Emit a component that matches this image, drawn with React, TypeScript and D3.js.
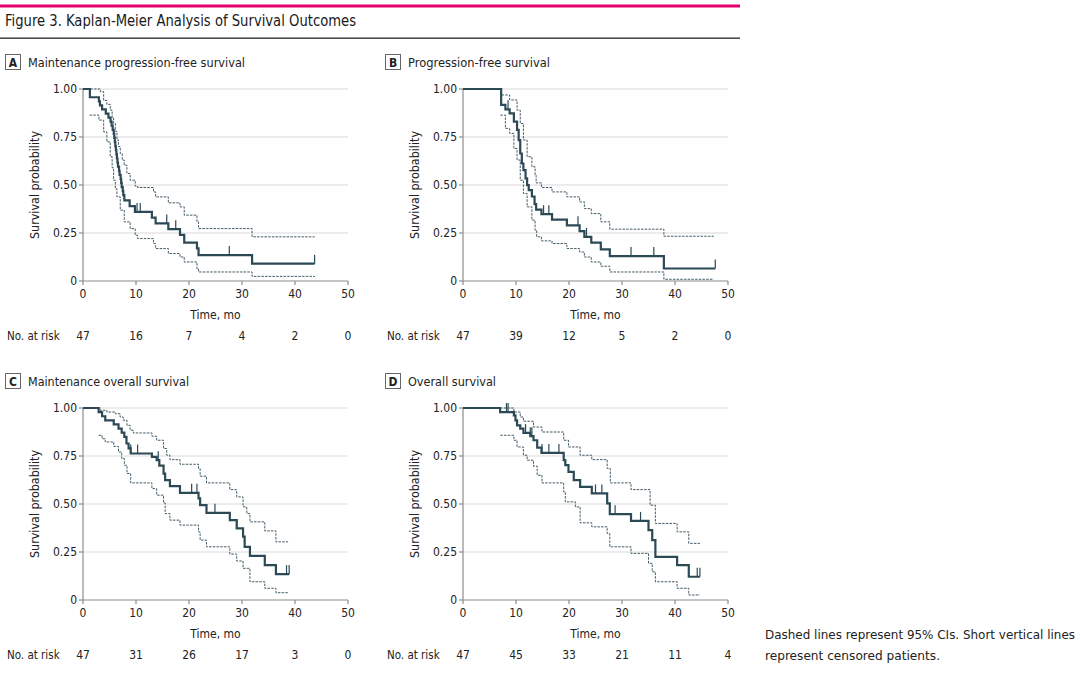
import React from "react";
import * as d3 from "d3";

type Pt = [number, number];

// ---- data (time in months, survival probability) ----
const mainA: Pt[] = [[0,1],[1.3,0.957],[3.0,0.936],[3.2,0.915],[3.6,0.894],[4.3,0.872],[4.8,0.851],[5.2,0.83],[5.4,0.809],[5.6,0.787],[5.8,0.766],[5.9,0.745],[6.0,0.723],[6.1,0.702],[6.2,0.681],[6.3,0.66],[6.4,0.638],[6.5,0.617],[6.6,0.596],[6.8,0.574],[6.9,0.553],[7.1,0.532],[7.2,0.511],[7.3,0.489],[7.5,0.468],[7.6,0.447],[7.8,0.42],[8.8,0.39],[9.8,0.36],[13.0,0.33],[13.7,0.3],[16.1,0.27],[18.3,0.24],[19.1,0.2],[21.5,0.17],[21.8,0.135],[31.9,0.09],[43.7,0.09]];
const upperA: Pt[] = [[0,1],[3.26,0.986],[3.9,0.94],[4.5,0.92],[5.14,0.89],[5.5,0.85],[5.77,0.82],[6.1,0.78],[6.4,0.734],[6.7,0.7],[7.03,0.664],[7.4,0.63],[7.78,0.603],[8.28,0.56],[8.9,0.525],[9.85,0.494],[10.3,0.487],[13.3,0.464],[13.7,0.438],[16.1,0.407],[18.3,0.386],[19.1,0.343],[21.5,0.308],[21.8,0.273],[31.9,0.23],[43.7,0.23]];
const lowerA: Pt[] = [[1.25,0.864],[3.0,0.838],[3.9,0.777],[4.5,0.725],[5.14,0.647],[5.5,0.59],[5.77,0.525],[6.1,0.48],[6.4,0.438],[7.03,0.369],[7.78,0.308],[8.9,0.273],[9.85,0.238],[10.3,0.221],[13.3,0.195],[13.7,0.169],[16.1,0.143],[18.3,0.125],[19.1,0.099],[21.5,0.064],[21.8,0.047],[31.9,0.024],[43.7,0.021]];
const censorA = [10.2, 10.8, 15.8, 17.5, 27.6, 43.7];
const riskA = [47, 16, 7, 4, 2, 0];

const mainB: Pt[] = [[0,1],[7.2,0.917],[8.0,0.894],[8.8,0.873],[9.6,0.83],[10.2,0.787],[10.5,0.734],[10.8,0.664],[11.1,0.612],[11.4,0.577],[11.8,0.534],[12.1,0.499],[12.4,0.473],[13.0,0.44],[13.5,0.4],[13.8,0.372],[14.8,0.348],[16.8,0.32],[19.6,0.29],[22.0,0.26],[22.9,0.23],[24.2,0.2],[26.0,0.165],[27.7,0.13],[37.9,0.065],[47.6,0.065]];
const upperB: Pt[] = [[0,1],[7.2,0.969],[8.8,0.943],[10.2,0.89],[10.8,0.82],[11.4,0.734],[12.1,0.647],[13.0,0.595],[13.6,0.551],[13.8,0.511],[14.8,0.487],[16.8,0.464],[19.6,0.438],[22.0,0.412],[22.9,0.377],[24.2,0.351],[26.0,0.308],[27.7,0.27],[37.9,0.233],[47.3,0.233]];
const lowerB: Pt[] = [[7.04,0.864],[8.0,0.795],[8.8,0.769],[9.6,0.69],[10.2,0.63],[10.8,0.525],[11.4,0.456],[12.1,0.386],[13.0,0.317],[13.6,0.264],[13.9,0.23],[14.8,0.209],[16.8,0.195],[19.6,0.169],[22.0,0.151],[22.9,0.125],[24.2,0.099],[26.0,0.077],[27.7,0.047],[37.9,0.009],[47.3,0.009]];
const censorB = [8.5, 15.2, 16.2, 21.7, 23.3, 31.7, 36.0, 47.6];
const riskB = [47, 39, 12, 5, 2, 0];

const mainC: Pt[] = [[0,1],[2.95,0.979],[3.6,0.957],[4.2,0.936],[5.8,0.915],[6.7,0.893],[7.3,0.872],[7.8,0.85],[8.2,0.815],[8.6,0.79],[9.0,0.763],[13.0,0.745],[13.9,0.728],[14.4,0.7],[15.2,0.658],[15.5,0.624],[16.4,0.593],[18.3,0.558],[21.8,0.529],[22.1,0.494],[23.3,0.454],[27.7,0.416],[29.0,0.373],[30.2,0.33],[30.5,0.277],[31.5,0.23],[34.3,0.182],[36.4,0.135],[38.9,0.135]];
const upperC: Pt[] = [[0,1],[3.26,0.988],[4.5,0.979],[6.1,0.97],[7.0,0.953],[7.6,0.936],[8.3,0.91],[8.9,0.884],[9.5,0.87],[13.0,0.853],[13.9,0.832],[15.2,0.789],[15.8,0.754],[16.4,0.731],[18.3,0.707],[21.8,0.685],[22.1,0.645],[23.3,0.61],[27.7,0.575],[29.0,0.537],[30.2,0.485],[30.9,0.45],[31.5,0.407],[34.3,0.36],[36.4,0.303],[38.7,0.303]];
const lowerC: Pt[] = [[2.95,0.858],[3.6,0.84],[4.2,0.823],[5.8,0.8],[6.7,0.771],[7.3,0.737],[7.8,0.702],[8.3,0.659],[9.0,0.61],[13.0,0.58],[13.9,0.546],[15.2,0.506],[15.5,0.45],[16.4,0.416],[18.3,0.39],[21.8,0.355],[22.1,0.312],[23.3,0.277],[27.7,0.239],[29.0,0.203],[30.2,0.165],[31.5,0.095],[34.3,0.061],[36.4,0.038],[38.7,0.038]];
const censorC = [9.0, 10.3, 14.2, 20.5, 21.5, 24.9, 29.0, 38.4, 38.9];
const riskC = [47, 31, 26, 17, 3, 0];

const mainD: Pt[] = [[0,1],[7.0,0.979],[9.6,0.962],[9.9,0.936],[10.2,0.91],[10.8,0.893],[11.4,0.87],[12.7,0.853],[13.3,0.832],[14.0,0.794],[14.8,0.766],[19.0,0.728],[19.3,0.702],[19.9,0.667],[20.9,0.624],[22.1,0.589],[24.3,0.555],[27.2,0.503],[27.7,0.447],[31.7,0.412],[35.0,0.364],[35.7,0.312],[36.3,0.225],[40.4,0.182],[42.6,0.121],[44.7,0.121]];
const upperD: Pt[] = [[0,1],[9.6,0.979],[10.8,0.953],[11.4,0.931],[13.3,0.901],[14.9,0.875],[19.0,0.832],[19.9,0.797],[22.1,0.754],[24.3,0.731],[27.2,0.685],[27.8,0.61],[31.7,0.575],[35.3,0.494],[36.3,0.399],[40.4,0.355],[42.6,0.295],[44.7,0.295]];
const lowerD: Pt[] = [[7.04,0.858],[9.6,0.832],[10.2,0.797],[11.4,0.754],[12.1,0.728],[13.3,0.697],[14.0,0.65],[14.9,0.61],[19.0,0.563],[19.3,0.511],[21.2,0.485],[22.1,0.402],[24.3,0.381],[27.2,0.347],[27.7,0.277],[31.7,0.243],[35.0,0.191],[35.7,0.147],[36.3,0.095],[40.4,0.061],[42.6,0.026],[44.7,0.026]];
const censorD = [8.2, 8.5, 11.8, 12.7, 13.0, 14.9, 16.2, 18.1, 25.0, 26.2, 28.7, 33.5, 44.2, 44.7];
const riskD = [47, 45, 33, 21, 11, 4];

const xTicks = [0, 10, 20, 30, 40, 50];
const yTicks = [0, 0.25, 0.5, 0.75, 1];

const FONT = "'Liberation Sans Narrow', 'DejaVu Sans Condensed', Roboto, 'Noto Sans', sans-serif";
const INK = "#2c4a56";
const AXIS = "#8c8c8c";
const GRID = "#d9d9d9";
const TXT = "#222";

function stepAt(pts: Pt[], t: number) {
  let v = pts[0][1];
  for (const p of pts) if (p[0] <= t + 1e-9) v = p[1];
  return v;
}

interface PanelProps {
  letter: string;
  title: string;
  titleLen: number;
  x0: number;
  top: number; // y of panel label box
  main: Pt[];
  upper: Pt[];
  lower: Pt[];
  censor: number[];
  risk: number[];
}

function Panel({ letter, title, titleLen, x0, top, main, upper, lower, censor, risk }: PanelProps) {
  const yTop = top + 35;
  const yBot = yTop + 192;
  const x = d3.scaleLinear().domain([0, 50]).range([x0, x0 + 265]);
  const y = d3.scaleLinear().domain([0, 1]).range([yBot, yTop]);
  const line = d3.line<Pt>().x(d => x(d[0])).y(d => y(d[1])).curve(d3.curveStepAfter);
  const left = x0 - 78;
  return (
    <g>
      <rect x={left + 0.5} y={top + 0.5} width={15} height={15} fill="none" stroke="#666" strokeWidth={1} />
      <text x={left + 8} y={top + 12.5} textAnchor="middle" fontSize={12} fontWeight="bold" fill={TXT}>{letter}</text>
      <text x={left + 23} y={top + 12.5} fontSize={12.5} fill={TXT} textLength={titleLen} lengthAdjust="spacingAndGlyphs">{title}</text>

      {yTicks.filter(t => t > 0).map(t => (
        <line key={"g" + t} x1={x(0)} x2={x(50)} y1={y(t)} y2={y(t)} stroke={GRID} strokeWidth={1} />
      ))}
      <line x1={x(0)} x2={x(0)} y1={y(1)} y2={y(0)} stroke={AXIS} strokeWidth={1.2} />
      <line x1={x(0)} x2={x(50)} y1={y(0)} y2={y(0)} stroke={AXIS} strokeWidth={1.2} />
      {yTicks.map(t => (
        <g key={"y" + t}>
          <line x1={x(0) - 4} x2={x(0)} y1={y(t)} y2={y(t)} stroke={AXIS} strokeWidth={1.2} />
          <text x={x(0) - 6} y={y(t) + 4} textAnchor="end" fontSize={12} fill={TXT}>{t === 0 ? "0" : d3.format(".2f")(t)}</text>
        </g>
      ))}
      {xTicks.map(t => (
        <g key={"x" + t}>
          <line x1={x(t)} x2={x(t)} y1={y(0)} y2={y(0) + 4} stroke={AXIS} strokeWidth={1.2} />
          <text x={x(t)} y={y(0) + 17} textAnchor="middle" fontSize={12} fill={TXT}>{t}</text>
        </g>
      ))}
      <text transform={`translate(${x0 - 44},${(yTop + yBot) / 2}) rotate(-90)`} textAnchor="middle" fontSize={12} fill={TXT} textLength={108} lengthAdjust="spacingAndGlyphs">Survival probability</text>
      <text x={(x(0) + x(50)) / 2} y={yBot + 38} textAnchor="middle" fontSize={12} fill={TXT}>Time, mo</text>
      <text x={left + 2} y={yBot + 59} fontSize={11.5} fill={TXT}>No. at risk</text>
      {risk.map((r, i) => (
        <text key={"r" + i} x={x(xTicks[i])} y={yBot + 59} textAnchor="middle" fontSize={12} fill={TXT}>{r}</text>
      ))}

      <path d={line(upper) || ""} fill="none" stroke={INK} strokeWidth={0.9} strokeDasharray="2.5,1.2" />
      <path d={line(lower) || ""} fill="none" stroke={INK} strokeWidth={0.9} strokeDasharray="2.5,1.2" />
      <path d={line(main) || ""} fill="none" stroke={INK} strokeWidth={2.2} />
      {censor.map((c, i) => (
        <line key={"c" + i} x1={x(c)} x2={x(c)} y1={y(stepAt(main, c))} y2={y(stepAt(main, c)) - 9} stroke={INK} strokeWidth={1.2} />
      ))}
    </g>
  );
}

export default function App() {
  return (
    <div style={{ position: "absolute", left: 0, top: 0, width: 1080, height: 698, background: "#fff" }}>
      <svg width={1080} height={698} style={{ display: "block", fontFamily: FONT }}>
        <rect x={0} y={4.5} width={740} height={3} fill="#e4006d" />
        <text x={5} y={26} fontSize={15.5} fill="#1a1a1a" textLength={351} lengthAdjust="spacingAndGlyphs">Figure 3. Kaplan-Meier Analysis of Survival Outcomes</text>
        <rect x={0} y={37.5} width={740} height={1.3} fill="#222" />

        <Panel letter="A" title="Maintenance progression-free survival" titleLen={217} x0={83} top={54} main={mainA} upper={upperA} lower={lowerA} censor={censorA} risk={riskA} />
        <Panel letter="B" title="Progression-free survival" titleLen={142} x0={463} top={54} main={mainB} upper={upperB} lower={lowerB} censor={censorB} risk={riskB} />
        <Panel letter="C" title="Maintenance overall survival" titleLen={161} x0={83} top={373} main={mainC} upper={upperC} lower={lowerC} censor={censorC} risk={riskC} />
        <Panel letter="D" title="Overall survival" titleLen={88} x0={463} top={373} main={mainD} upper={upperD} lower={lowerD} censor={censorD} risk={riskD} />

        <text x={765} y={639} fontSize={13} fill={TXT} textLength={310} lengthAdjust="spacingAndGlyphs">Dashed lines represent 95% CIs. Short vertical lines</text>
        <text x={765} y={660} fontSize={13} fill={TXT} textLength={175} lengthAdjust="spacingAndGlyphs">represent censored patients.</text>
      </svg>
    </div>
  );
}
